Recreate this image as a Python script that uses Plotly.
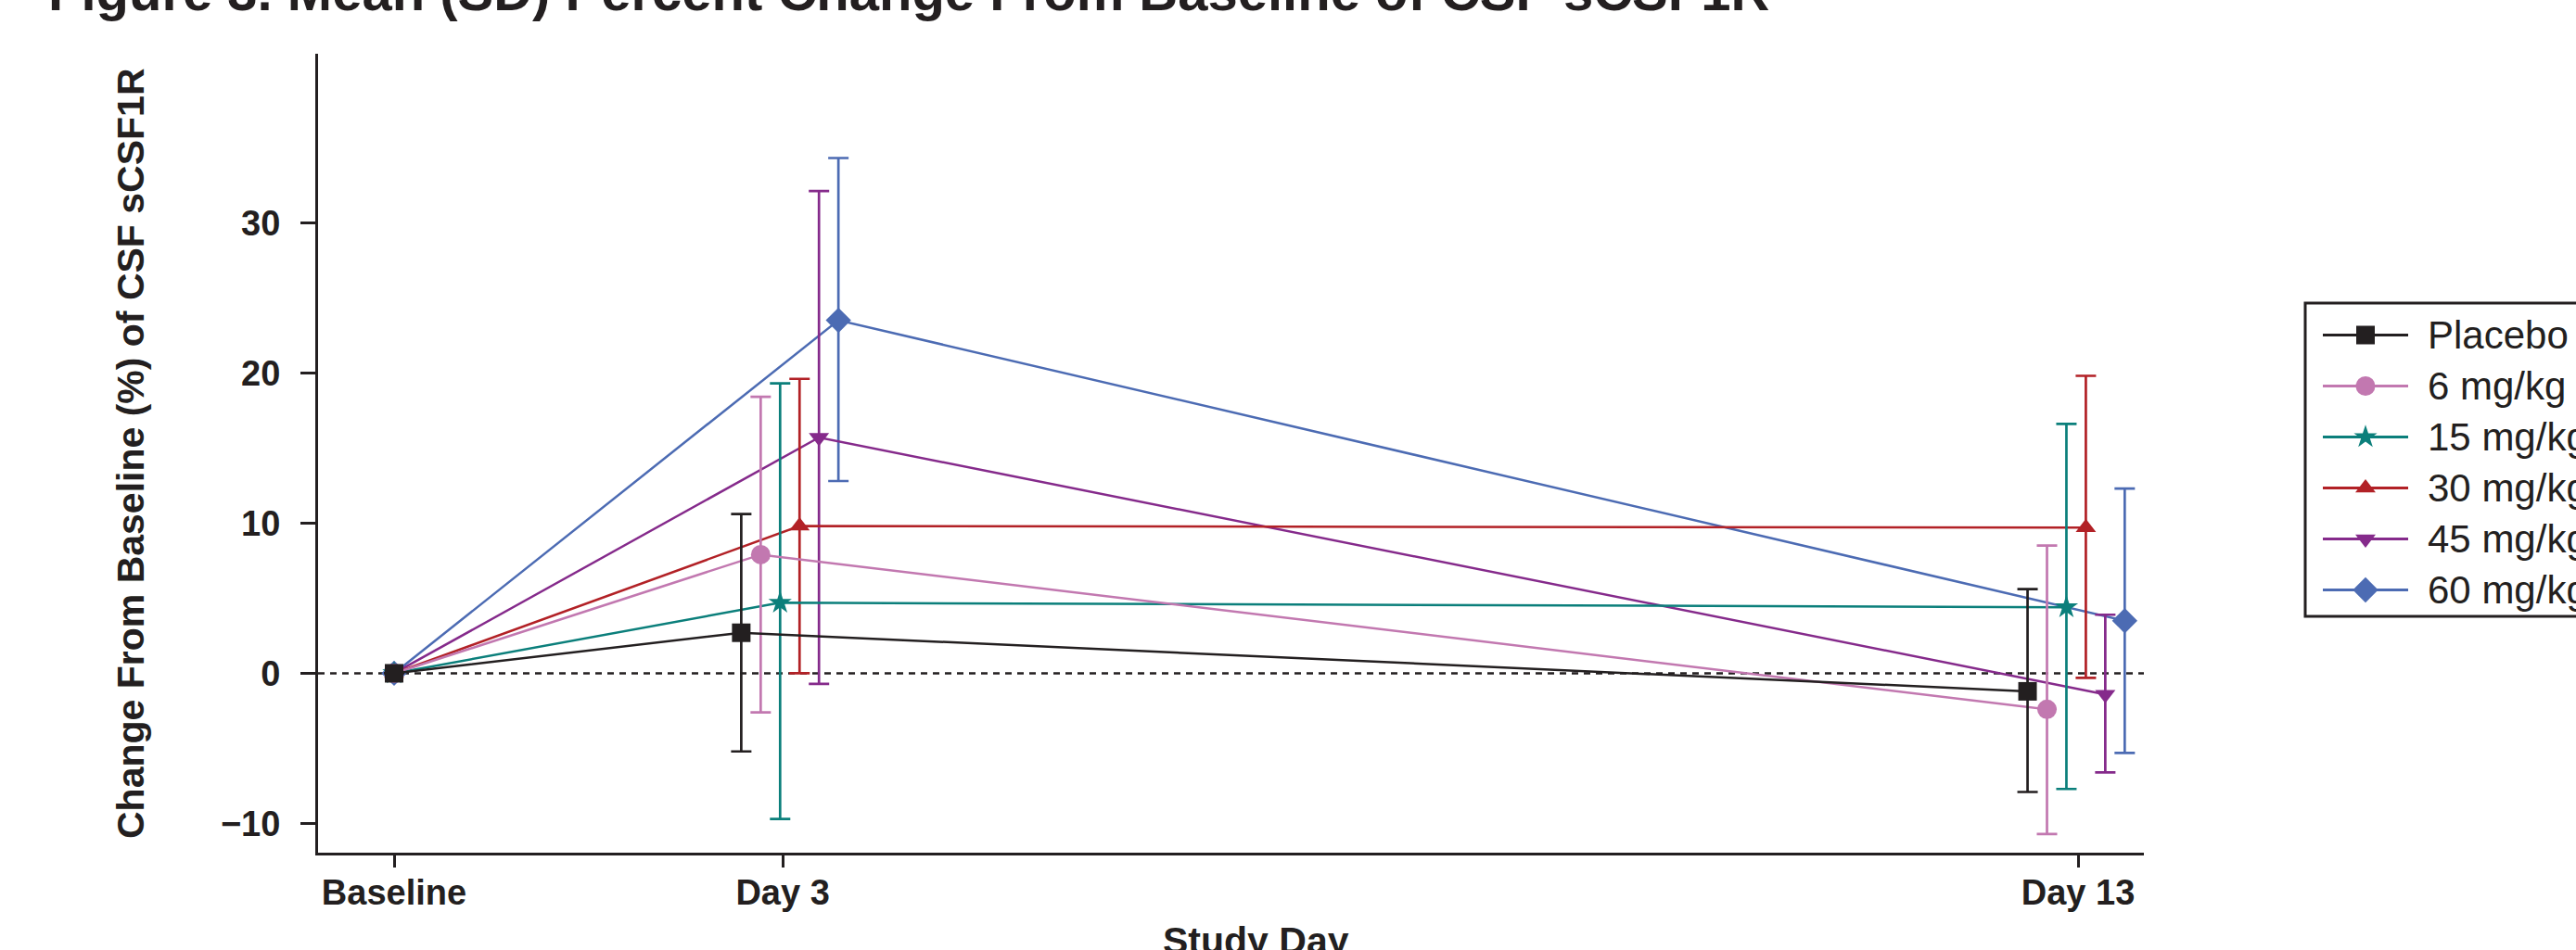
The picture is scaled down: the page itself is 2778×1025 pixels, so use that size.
import plotly.graph_objects as go

# ---------------- data ----------------
visit_labels = ["Baseline", "Day 3", "Day 13"]
visit_days = [0, 3, 13]

group_names = ["Placebo", "6 mg/kg", "15 mg/kg", "30 mg/kg", "45 mg/kg", "60 mg/kg"]

placebo_mean = [0.0, 2.7, -1.2]
placebo_sd_hi = [None, 7.9, 6.8]
placebo_sd_lo = [None, 7.9, 6.7]

mg6_mean = [0.0, 7.9, -2.4]
mg6_sd_hi = [None, 10.5, 10.9]
mg6_sd_lo = [None, 10.5, 8.3]

mg15_mean = [0.0, 4.7, 4.4]
mg15_sd_hi = [None, 14.6, 12.2]
mg15_sd_lo = [None, 14.4, 12.1]

mg30_mean = [0.0, 9.8, 9.7]
mg30_sd_hi = [None, 9.8, 10.1]
mg30_sd_lo = [None, 9.8, 10.0]

mg45_mean = [0.0, 15.7, -1.4]
mg45_sd_hi = [None, 16.4, 5.3]
mg45_sd_lo = [None, 16.4, 5.2]

mg60_mean = [0.0, 23.5, 3.5]
mg60_sd_hi = [None, 10.8, 8.8]
mg60_sd_lo = [None, 10.7, 8.8]

y_tick_values = [-10, 0, 10, 20, 30]

# ---------------- styles ----------------
means = [placebo_mean, mg6_mean, mg15_mean, mg30_mean, mg45_mean, mg60_mean]
sd_hi = [placebo_sd_hi, mg6_sd_hi, mg15_sd_hi, mg30_sd_hi, mg45_sd_hi, mg60_sd_hi]
sd_lo = [placebo_sd_lo, mg6_sd_lo, mg15_sd_lo, mg30_sd_lo, mg45_sd_lo, mg60_sd_lo]

colors = ["#231f20", "#c278b0", "#0b7f7b", "#b22126", "#852a8b", "#4c6bb3"]
symbols = ["square", "circle", "star", "triangle-up", "triangle-down", "diamond"]
msizes = [20, 21, 19, 19, 19, 21]

# horizontal dodge of the groups at each visit (in day units)
dodge_start = [0.0, -0.32, -0.39]
dodge_step = [0.0, 0.15, 0.15]

INK = "#231f20"
FONT = "Liberation Sans, Arial, sans-serif"
W, H = 2778, 1025


def px(xp):
    return xp / W


def py(yp):
    return 1 - yp / H


fig = go.Figure()

# draw in reverse so placebo ends up on top
for k in reversed(range(len(group_names))):
    xs = [d + dodge_start[i] + dodge_step[i] * k for i, d in enumerate(visit_days)]
    fig.add_trace(go.Scatter(
        x=xs,
        y=means[k],
        name=group_names[k],
        showlegend=False,
        mode="lines+markers",
        line=dict(color=colors[k], width=2.5),
        marker=dict(symbol=symbols[k], size=msizes[k], color=colors[k], line=dict(width=0)),
        error_y=dict(type="data", symmetric=False, array=sd_hi[k], arrayminus=sd_lo[k],
                     color=colors[k], thickness=2.7, width=11),
    ))

# ---------------- legend (drawn in a full-figure pixel overlay) ----------------
LEG_LEFT, LEG_TOP, LEG_BOTTOM = 2486, 327, 665
ROW0, ROW_STEP = 361.5, 55
LINE_X0, LINE_X1, MARK_X, TEXT_X = 2505, 2597, 2551, 2616

shapes = [
    dict(type="line", xref="x domain", yref="y", x0=0, x1=1, y0=0, y1=0,
         line=dict(color=INK, width=2.5, dash="7px,6px"), layer="below"),
    dict(type="rect", xref="paper", yref="paper",
         x0=px(LEG_LEFT), x1=px(W + 20), y0=py(LEG_TOP), y1=py(LEG_BOTTOM),
         line=dict(color=INK, width=3), fillcolor="white", layer="below"),
]
annotations = []
for k, name in enumerate(group_names):
    ry = ROW0 + ROW_STEP * k
    fig.add_trace(go.Scatter(
        x=[LINE_X0, LINE_X1], y=[ry, ry],
        xaxis="x2", yaxis="y2", mode="lines", showlegend=False,
        hoverinfo="skip", cliponaxis=False,
        line=dict(color=colors[k], width=3.2),
    ))
    fig.add_trace(go.Scatter(
        x=[MARK_X], y=[ry], name=name,
        xaxis="x2", yaxis="y2", mode="markers", showlegend=False,
        hoverinfo="skip", cliponaxis=False,
        marker=dict(symbol=symbols[k], size=msizes[k], color=colors[k], line=dict(width=0)),
    ))
    annotations.append(dict(
        text=name, xref="paper", yref="paper", x=px(TEXT_X), y=py(ry),
        xanchor="left", yanchor="middle", showarrow=False,
        font=dict(family=FONT, size=42, color=INK)))

annotations += [
    dict(text="Figure 3. Mean (SD) Percent Change From Baseline of CSF sCSF1R",
         xref="paper", yref="paper", x=px(50), y=py(-9),
         xanchor="left", yanchor="middle", showarrow=False,
         font=dict(family=FONT, size=58, color=INK, weight="bold")),
    dict(text="Change From Baseline (%) of CSF sCSF1R",
         xref="paper", yref="paper", x=px(141), y=py(489),
         xanchor="center", yanchor="middle", textangle=-90, showarrow=False,
         font=dict(family=FONT, size=41, color=INK, weight="bold")),
    dict(text="Study Day",
         xref="paper", yref="paper", x=px(1354.5), y=py(1015),
         xanchor="center", yanchor="middle", showarrow=False,
         font=dict(family=FONT, size=41, color=INK, weight="bold")),
]

fig.update_layout(
    width=W, height=H,
    margin=dict(l=0, r=0, t=0, b=0, autoexpand=False),
    paper_bgcolor="white", plot_bgcolor="rgba(0,0,0,0)",
    font=dict(family=FONT, color=INK),
    showlegend=False,
    xaxis=dict(
        domain=[px(343), px(2312)],
        range=[-0.587, 13.508],
        tickmode="array", tickvals=visit_days, ticktext=visit_labels,
        showline=True, linecolor=INK, linewidth=3,
        ticks="outside", ticklen=13, tickwidth=2.5, tickcolor=INK,
        tickfont=dict(family=FONT, size=38, color=INK, weight="bold"),
        showgrid=False, zeroline=False,
        ticklabelstandoff=-6,
        anchor="y",
    ),
    yaxis=dict(
        domain=[py(920), py(58)],
        range=[-11.94, 41.24],
        tickmode="array", tickvals=y_tick_values,
        showline=True, linecolor=INK, linewidth=3,
        ticks="outside", ticklen=16, tickwidth=2.5, tickcolor=INK,
        tickfont=dict(family=FONT, size=38, color=INK, weight="bold"),
        showgrid=False, zeroline=False,
        ticklabelstandoff=14,
        anchor="x",
    ),
    xaxis2=dict(domain=[0, 1], range=[0, W], visible=False, anchor="y2", fixedrange=True),
    yaxis2=dict(domain=[0, 1], range=[H, 0], visible=False, anchor="x2", fixedrange=True),
    shapes=shapes,
    annotations=annotations,
)

fig.write_html("out.html")
